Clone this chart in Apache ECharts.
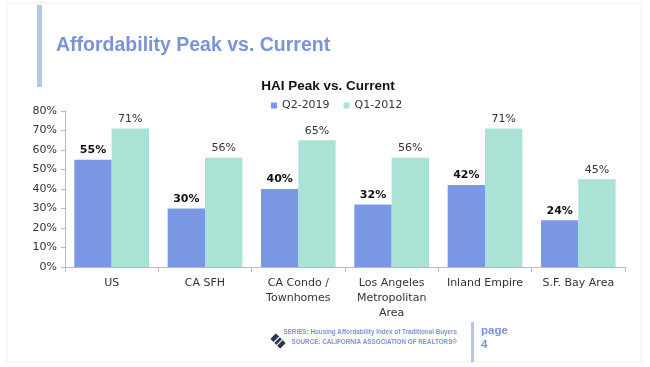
<!DOCTYPE html>
<html><head><meta charset="utf-8">
<script src="https://cdn.jsdelivr.net/npm/echarts@6/dist/echarts.min.js"></script>
<style>html,body{margin:0;padding:0;background:#fff}#c{width:650px;height:367px}</style>
</head><body><div id="c"></div>
<script>
const categories = ['US','CA SFH','CA Condo /\nTownhomes','Los Angeles\nMetropolitan\nArea','Inland Empire','S.F. Bay Area'];
const q2_2019 = [55,30,40,32,42,24];
const q1_2012 = [71,56,65,56,71,45];
const yTicks = [0,10,20,30,40,50,60,70,80];
const seriesNames = ['Q2-2019','Q1-2012'];

const chart = echarts.init(document.getElementById('c'), null, {renderer:'canvas'});
const F = 'DejaVu Sans';
const L = 'Liberation Sans';
chart.setOption({
  animation:false,
  backgroundColor:'#fff',
  title:[{text:'HAI Peak vs. Current', left:323, textAlign:'center', top:74,
    textStyle:{fontFamily:L,fontSize:13.5,fontWeight:'bold',color:'#111'}}],
  legend:{data:seriesNames, top:95, left:266, itemWidth:6, itemHeight:6, itemGap:14,
    icon:'rect', textStyle:{fontFamily:F,fontSize:11,color:'#333'}},
  grid:{left:65, right:25, top:111, bottom:100, containLabel:false},
  xAxis:{type:'category', data:categories,
    axisLine:{lineStyle:{color:'#bbb'}}, axisTick:{show:true,length:5,lineStyle:{color:'#bbb'}},
    axisLabel:{fontFamily:F,fontSize:11,color:'#333',lineHeight:15,margin:9,interval:0}},
  yAxis:{type:'value', min:yTicks[0], max:yTicks[yTicks.length-1], interval:10,
    splitLine:{show:false}, axisLine:{show:true,lineStyle:{color:'#bbb'}},
    axisTick:{show:true,length:4,lineStyle:{color:'#bbb'}},
    axisLabel:{fontFamily:F,fontSize:11,color:'#333',formatter:'{value}%',margin:8}},
  series:[
    {name:seriesNames[0], type:'bar', data:q2_2019, barGap:'0%', barCategoryGap:'20%',
     itemStyle:{color:'#7b98e4'},
     label:{show:true,position:'top',formatter:'{c}%',fontFamily:F,fontSize:11,fontWeight:'bold',color:'#111',distance:4}},
    {name:seriesNames[1], type:'bar', data:q1_2012,
     itemStyle:{color:'#aae2d6'},
     label:{show:true,position:'top',formatter:'{c}%',fontFamily:F,fontSize:11,color:'#333',distance:4}}
  ],
  graphic:[
    {type:'rect', shape:{x:7,y:3,width:634,height:359}, style:{fill:'none',stroke:'#efefef',lineWidth:1}, silent:true},
    {type:'rect', shape:{x:37,y:5,width:5,height:82}, style:{fill:'#b8c5ea'}},
    {type:'text', x:56, y:46, style:{text:'Affordability Peak vs. Current', fill:'#7b93d8', fontFamily:L, fontSize:19.5, fontWeight:'bold', textVerticalAlign:'middle'}},
    {type:'text', x:457, y:332, style:{text:'SERIES: Housing Affordability Index of Traditional Buyers', fill:'#7d95d8', fontFamily:L, fontSize:6.3, fontWeight:'bold', textAlign:'right', textVerticalAlign:'middle'}},
    {type:'text', x:457, y:342, style:{text:'SOURCE: CALIFORNIA ASSOCIATION OF REALTORS®', fill:'#7d95d8', fontFamily:L, fontSize:6.3, fontWeight:'bold', textAlign:'right', textVerticalAlign:'middle'}},
    {type:'rect', shape:{x:471,y:322,width:3,height:40}, style:{fill:'#b8c5ea'}},
    {type:'text', x:481, y:331, style:{text:'page', fill:'#7b93d8', fontFamily:L, fontSize:11.5, fontWeight:'bold', textVerticalAlign:'middle'}},
    {type:'text', x:481, y:345, style:{text:'4', fill:'#7b93d8', fontFamily:L, fontSize:11.5, fontWeight:'bold', textVerticalAlign:'middle'}},
    {type:'group', x:278, y:341, rotation:-Math.PI/4, children:[
      {type:'rect', shape:{x:-7,y:-4,width:14,height:8,r:1}, style:{fill:'#2d3a4e'}},
      {type:'rect', shape:{x:-2.5,y:-4,width:1.2,height:8}, style:{fill:'#fff'}},
      {type:'rect', shape:{x:1.5,y:-4,width:1.2,height:8}, style:{fill:'#fff'}}
    ]}
  ]
});
</script></body></html>
